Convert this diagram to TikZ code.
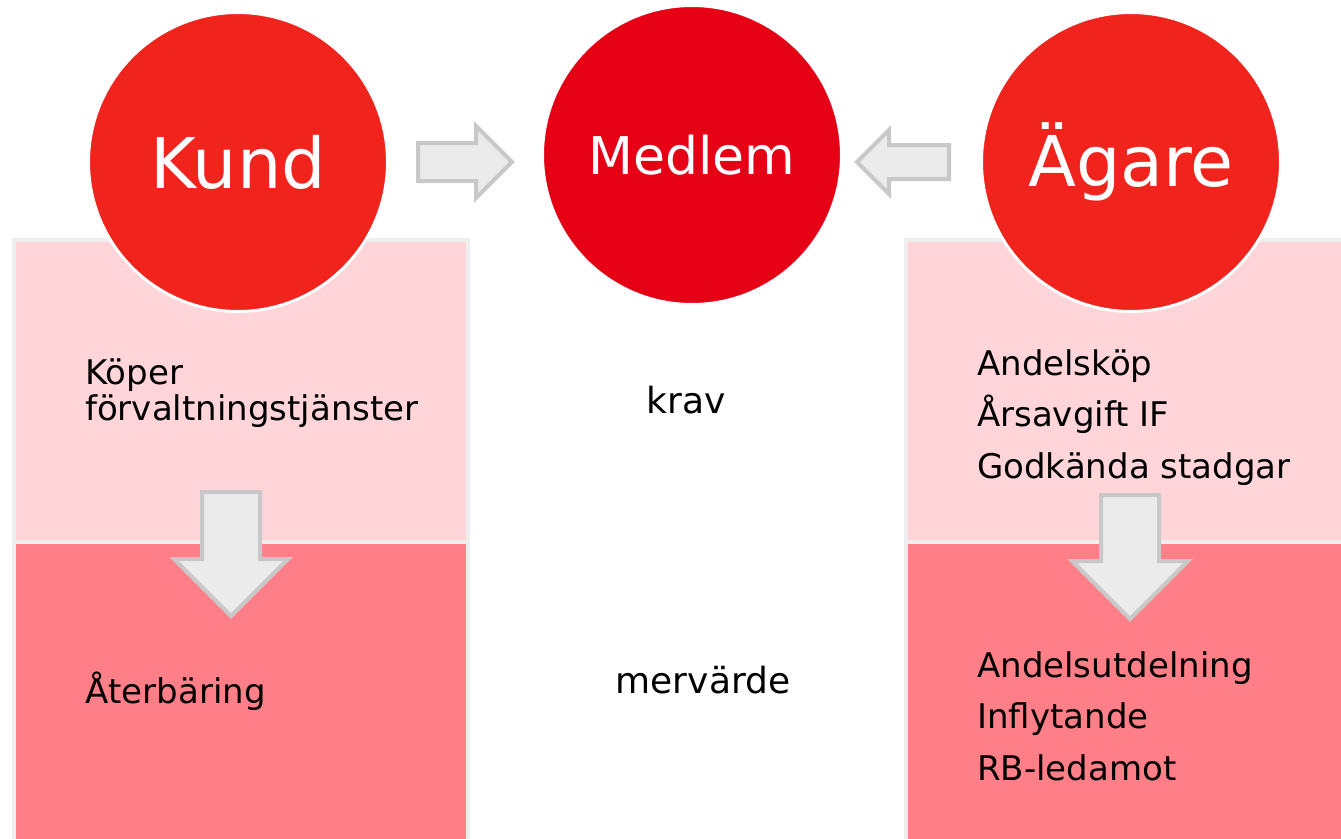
\documentclass[tikz,border=0pt]{standalone}
\usepackage{fontspec}
\setmainfont{DejaVu Sans}
\usetikzlibrary{
  calc,
  positioning,
  shapes.arrows,
}
\definecolor{kundred}{RGB}{240, 36, 28}
\definecolor{medlemred}{RGB}{230, 0, 22}
\definecolor{lightpink}{RGB}{255, 213, 218}
\definecolor{darkpink}{RGB}{255, 127, 136}
\definecolor{edgegray}{RGB}{238, 238, 238}
\definecolor{arrowfill}{RGB}{235, 235, 235}
\definecolor{arrowedge}{RGB}{200, 200, 200}
\tikzstyle{role} = [
  circle,
  draw=white,
  line width=3pt,
  fill=kundred,
  minimum size=299pt,
  inner sep=0pt,
  text=white,
  font=\fontsize{70}{70}\selectfont,
]
\tikzstyle{panel} = [
  rectangle,
  draw=edgegray,
  line width=4pt,
  anchor=north west,
  inner sep=0pt,
  minimum width=454pt,
]
\tikzstyle{blockarrow} = [
  single arrow,
  draw=arrowedge,
  fill=arrowfill,
  line width=4pt,
  inner sep=0pt,
  anchor=tail,
]
\tikzstyle{txt} = [
  anchor=base west,
  inner sep=0pt,
  align=left,
  font=\fontsize{34}{51.5}\selectfont,
]

\begin{document}
\begin{tikzpicture}[x=1pt,y=-1pt]
        \clip (0,0) rectangle (1341,838);

        \node[panel,minimum height=302pt,fill=lightpink]    (kundtop)    at (12,238)   {};
        \node[panel,minimum height=320pt,fill=darkpink]     (kundbot)    at (12,540)   {};
        \node[panel,minimum height=302pt,fill=lightpink]    (agaretop)   at (904,238)  {};
        \node[panel,minimum height=320pt,fill=darkpink]     (agarebot)   at (904,540)  {};

        \node[role]                  (kund)    at (238,162)   {Kund};
        \node[role,fill=medlemred,font=\fontsize{52}{52}\selectfont]   (medlem)  at (692,155)   {Medlem};
        \node[role]                  (agare)   at (1131,162)  {Ägare};

        \node[blockarrow,minimum height=94pt,minimum width=70pt,inner ysep=17pt,single arrow head extend=17pt]
            (toright) at ($(kund.east)+(27,0)$) {};
        \node[blockarrow,minimum height=92pt,minimum width=63pt,inner ysep=15pt,single arrow head extend=15pt,rotate=180]
            (toleft) at ($(agare.west)+(-29,0)$) {};
        \node[blockarrow,minimum height=124pt,minimum width=114pt,inner ysep=27pt,single arrow head extend=28pt,rotate=-90]
            (kunddown) at (231,490) {};
        \node[blockarrow,minimum height=124pt,minimum width=116pt,inner ysep=27pt,single arrow head extend=29pt,rotate=-90]
            (agaredown) at (1130,493) {};

        \node[txt,font=\fontsize{34}{36}\selectfont]    (koper)     at (85,420)   {Köper\\förvaltningstjänster};
        \node[txt]    (aterbaring)   at (85,703)   {Återbäring};
        \node[txt]    (andelskop)    at (977,478)  {Andelsköp\\Årsavgift IF\\Godkända stadgar};
        \node[txt]    (andelsutd)    at (977,780)  {Andelsutdelning\\Inflytande\\RB-ledamot};

        \node[txt,anchor=base,font=\fontsize{36}{36}\selectfont]   (krav)      at (686,413)  {krav};
        \node[txt,anchor=base,font=\fontsize{36}{36}\selectfont]   (mervarde)  at (703,693)  {mervärde};
    \end{tikzpicture}
\end{document}
